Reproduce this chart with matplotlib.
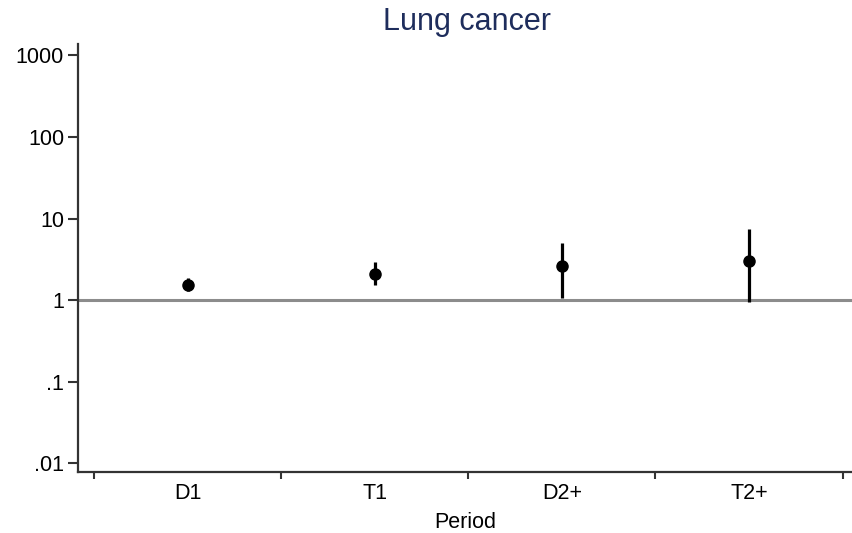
import numpy as np
import matplotlib.pyplot as plt

# Hazard ratios with 95% CI by period
periods = ['D1', 'T1', 'D2+', 'T2+']
hr = [1.55, 2.1, 2.6, 3.0]
ci_low = [1.30, 1.55, 1.07, 0.95]
ci_high = [1.85, 2.95, 5.05, 7.4]
yticks = [0.01, 0.1, 1, 10, 100, 1000]
ytick_labels = ['.01', '.1', '1', '10', '100', '1000']

plt.rcParams['font.family'] = ['Liberation Sans', 'DejaVu Sans']

fig = plt.figure(figsize=(8.52, 5.33), dpi=100)
ax = fig.add_axes([78 / 852, 1 - 472 / 533, 1 - 78 / 852, (472 - 44) / 533])

x = np.arange(1, len(periods) + 1)

# reference line at HR = 1
ax.axhline(1, color='#8c8c8c', lw=2.2, zorder=1)

ax.vlines(x, ci_low, ci_high, color='black', lw=2.3, zorder=2)
ax.plot(x, hr, 'o', color='black', ms=8, zorder=3)

ax.set_yscale('log')
ax.set_ylim(0.0078, 1380)
ax.set_xlim(0.415, 4.55)

ax.set_yticks(yticks)
ax.set_yticklabels(ytick_labels)
ax.yaxis.set_minor_locator(plt.NullLocator())

ax.set_xticks(x)
ax.set_xticklabels(periods)
ax.set_xticks(np.arange(0.5, len(periods) + 1, 1.0), minor=True)
ax.tick_params(axis='x', which='major', length=0, pad=8, labelsize=15.5)
ax.tick_params(axis='x', which='minor', length=5, width=1.5, color='#333333')
ax.tick_params(axis='y', length=7, width=1.5, color='#333333', labelsize=15.5, pad=3)

for side in ['top', 'right']:
    ax.spines[side].set_visible(False)
for side in ['left', 'bottom']:
    ax.spines[side].set_linewidth(1.6)
    ax.spines[side].set_color('#333333')

ax.set_xlabel('Period', fontsize=15.5, labelpad=6)
fig.text(467 / 852, 1 - 22 / 533, 'Lung cancer', ha='center', va='center',
         fontsize=22, color='#1e2d5c')

fig.savefig('out.png', dpi=100)
